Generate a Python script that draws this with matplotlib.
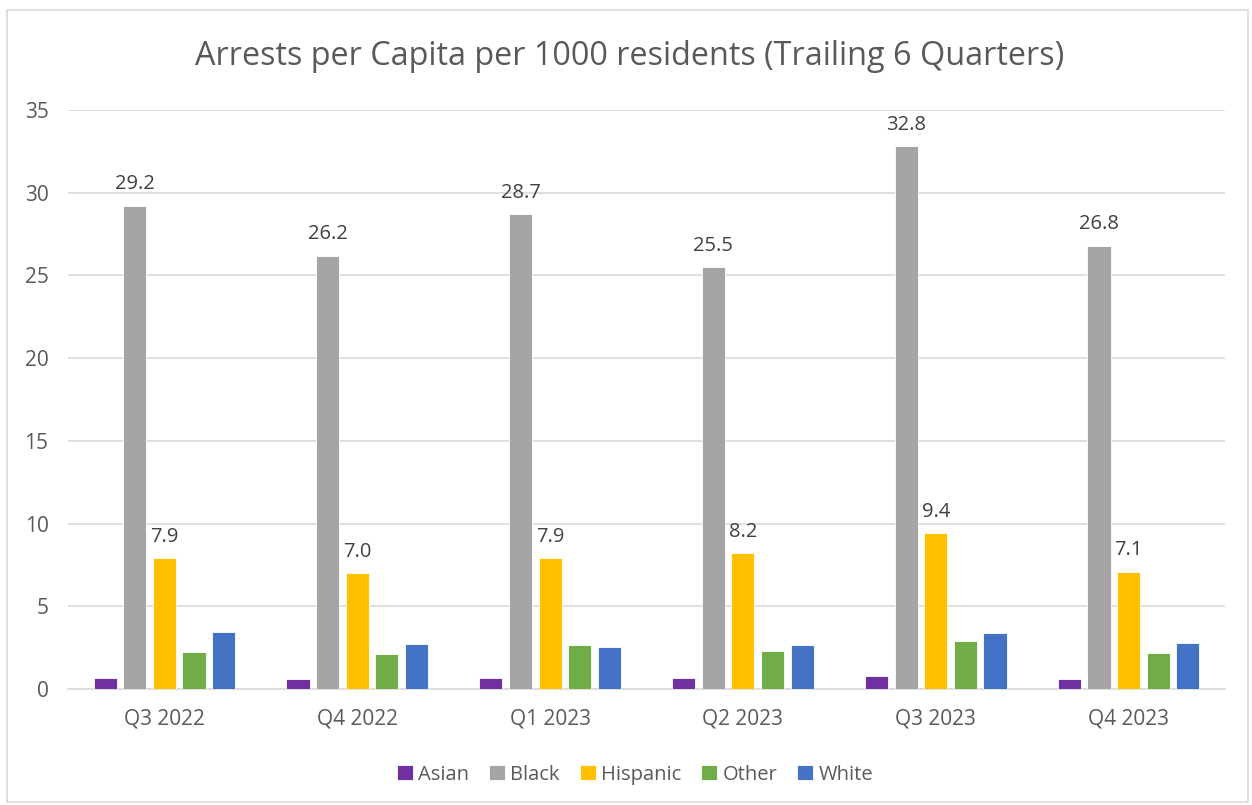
import matplotlib
matplotlib.use("Agg")
from matplotlib import pyplot as plt
from matplotlib.patches import Rectangle
import numpy as np

quarters = ["Q3 2022", "Q4 2022", "Q1 2023", "Q2 2023", "Q3 2023", "Q4 2023"]
groups = ["Asian", "Black", "Hispanic", "Other", "White"]
asian = [0.65, 0.59, 0.65, 0.65, 0.77, 0.61]
black = [29.2, 26.2, 28.7, 25.5, 32.8, 26.8]
hispanic = [7.9, 7.0, 7.9, 8.2, 9.4, 7.1]
other = [2.23, 2.11, 2.67, 2.29, 2.89, 2.15]
white = [3.46, 2.69, 2.53, 2.65, 3.38, 2.77]
colors = ["#7030A0", "#A5A5A5", "#FFC000", "#70AD47", "#4472C4"]
labelled = ["Black", "Hispanic"]  # only these carry data labels

plt.rcParams['font.family'] = ['Open Sans', 'DejaVu Sans']

fig = plt.figure(figsize=(12.52, 8.05), dpi=100)
ax = fig.add_axes([68 / 1252, 116 / 805, (1225 - 68) / 1252, (689 - 110) / 805])

# chart border
fig.patches.append(Rectangle((7 / 1252, 3 / 805), 1241 / 1252, 792 / 805,
                             transform=fig.transFigure, fill=False,
                             edgecolor="#d9d9d9", linewidth=1.2))

x = np.arange(len(quarters))
pitch = 0.1535
width = 0.12
series = [asian, black, hispanic, other, white]
for i, (name, vals, c) in enumerate(zip(groups, series, colors)):
    pos = x + (i - 2) * pitch
    bars = ax.bar(pos, vals, width, color=c, edgecolor="white", linewidth=0.6,
                  label=name, zorder=3)
    if name in labelled:
        for b, v in zip(bars, vals):
            ax.text(b.get_x() + b.get_width() / 2, v + 0.7, "%.1f" % v,
                    ha="center", va="bottom", fontsize=14.5, color="#404040")

ax.set_xlim(-0.5, 5.5)
ax.set_ylim(0, 35)
ax.set_yticks(range(0, 36, 5))
ax.set_xticks(x)
ax.set_xticklabels(quarters)
ax.tick_params(axis="both", length=0, labelsize=15, labelcolor="#595959")
ax.tick_params(axis="y", pad=14)
ax.tick_params(axis="x", pad=14)
ax.grid(axis="y", color="#d9d9d9", linewidth=1.2, zorder=0)
for s in ["top", "right", "left"]:
    ax.spines[s].set_visible(False)
ax.spines["bottom"].set_color("#d9d9d9")
ax.spines["bottom"].set_linewidth(1.2)

fig.text(0.503, 0.93, "Arrests per Capita per 1000 residents (Trailing 6 Quarters)",
         ha="center", va="center", fontsize=23.3, color="#595959")

ax.legend(loc="center", bbox_to_anchor=(0.49, -0.148), ncol=5, frameon=False,
          fontsize=14.5, handlelength=0.8, handleheight=0.8, handletextpad=0.25,
          columnspacing=1.0, labelcolor="#595959")

fig.savefig("out.png", dpi=100)
